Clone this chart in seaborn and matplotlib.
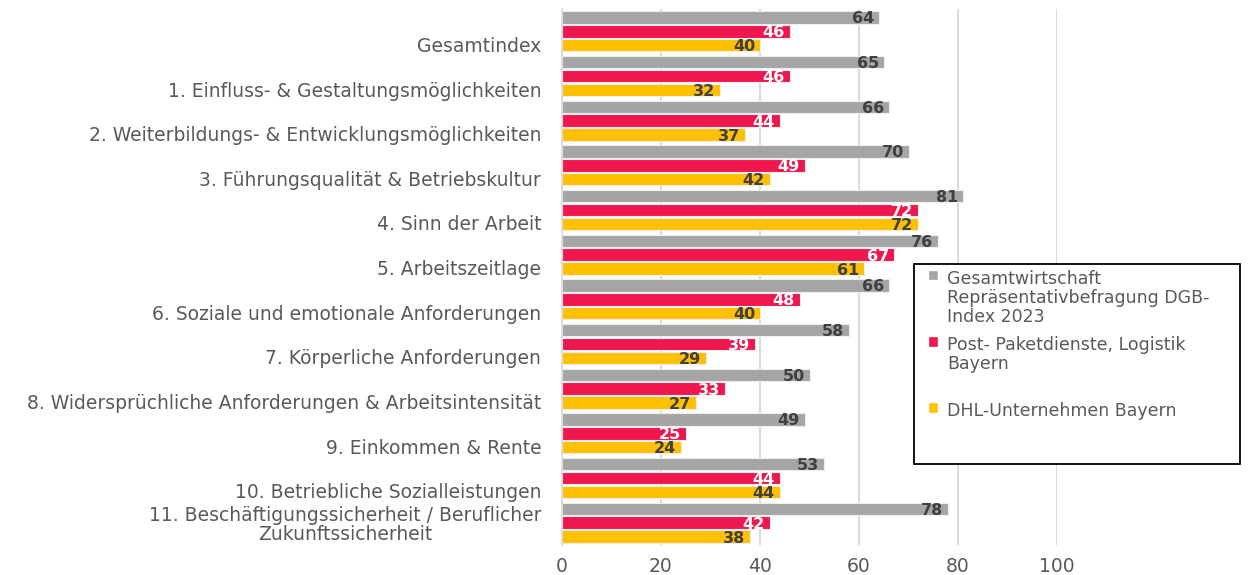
"""
DGB-Index Vergleich: Gesamtwirtschaft vs. Post/Logistik vs. DHL Bayern
"""

import numpy as np
import pandas as pd
import seaborn as sns
import matplotlib
matplotlib.use("Agg")
import matplotlib.pyplot as plt
from matplotlib.patches import Patch, Rectangle
from matplotlib.transforms import ScaledTranslation

categories = [
    "Gesamtindex",
    "1. Einfluss- & Gestaltungsmöglichkeiten",
    "2. Weiterbildungs- & Entwicklungsmöglichkeiten",
    "3. Führungsqualität & Betriebskultur",
    "4. Sinn der Arbeit",
    "5. Arbeitszeitlage",
    "6. Soziale und emotionale Anforderungen",
    "7. Körperliche Anforderungen",
    "8. Widersprüchliche Anforderungen & Arbeitsintensität",
    "9. Einkommen & Rente",
    "10. Betriebliche Sozialleistungen",
    "11. Beschäftigungssicherheit / Beruflicher\nZukunftssicherheit",
]
gesamt = [64, 65, 66, 70, 81, 76, 66, 58, 50, 49, 53, 78]
post = [46, 46, 44, 49, 72, 67, 48, 39, 33, 25, 44, 42]
dhl = [40, 32, 37, 42, 72, 61, 40, 29, 27, 24, 44, 38]

series_names = [
    "Gesamtwirtschaft Repräsentativbefragung DGB-Index 2023",
    "Post- Paketdienste, Logistik Bayern",
    "DHL-Unternehmen Bayern",
]
legend_labels = [
    "Gesamtwirtschaft\nRepräsentativbefragung DGB-\nIndex 2023",
    "Post- Paketdienste, Logistik\nBayern\n",
    "DHL-Unternehmen Bayern",
]
colors = ["#A5A5A5", "#F0174F", "#FFC000"]
label_colors = ["#404040", "white", "#404040"]
x_ticks = [0, 20, 40, 60, 80, 100]

TEXT = "#595959"
GRID = "#D9D9D9"


def build_frame() -> pd.DataFrame:
    rows = []
    for name, values in zip(series_names, [gesamt, post, dhl]):
        for cat, v in zip(categories, values):
            rows.append({"Kategorie": cat, "Wert": v, "Reihe": name})
    return pd.DataFrame(rows)


def run() -> None:
    df = build_frame()
    sns.set_style("white")
    plt.rcParams["font.family"] = ["DejaVu Sans"]

    fig = plt.figure(figsize=(12.48, 5.75), dpi=100)
    ax = fig.add_axes([562 / 1248, 1 - 545 / 575, (1057 - 562) / 1248, 536 / 575])

    sns.barplot(
        data=df, x="Wert", y="Kategorie", hue="Reihe", orient="h",
        palette=colors, saturation=1, width=0.93, gap=0.1, errorbar=None,
        edgecolor="#EEEEEE", linewidth=0.8, legend=False, ax=ax,
    )

    # value labels inside the bar ends
    for container, values, tc in zip(ax.containers, [gesamt, post, dhl], label_colors):
        for patch, v in zip(container.patches, values):
            ax.annotate(
                f"{v}", (patch.get_x() + patch.get_width(), patch.get_y() + patch.get_height() / 2),
                xytext=(-3.5, 0), textcoords="offset points", ha="right", va="center_baseline",
                fontsize=11.5, fontweight="bold", color=tc,
            )

    ax.set_xlim(0, 100)
    ax.set_ylim(len(categories) - 0.5, -0.5)
    ax.set_xticks(x_ticks)
    ax.set_xlabel("")
    ax.set_ylabel("")
    ax.xaxis.grid(True, color=GRID, linewidth=1.4)
    ax.set_axisbelow(True)
    for side in ["top", "right", "bottom"]:
        ax.spines[side].set_visible(False)
    ax.spines["left"].set_color(GRID)
    ax.spines["left"].set_linewidth(1.2)

    ax.set_yticks(np.arange(-0.5, len(categories), 1), minor=True)
    ax.tick_params(axis="y", which="minor", length=7, color=GRID, width=1.2)
    ax.tick_params(axis="y", which="major", length=0, pad=15, labelsize=13.5, labelcolor=TEXT)
    ax.tick_params(axis="x", length=0, pad=9, labelsize=13.5, labelcolor=TEXT)

    # single-line category labels sit a little below the group centre
    shift = ScaledTranslation(0, -13 / 100, fig.dpi_scale_trans)
    for lbl in ax.get_yticklabels():
        if "\n" not in lbl.get_text():
            lbl.set_transform(lbl.get_transform() + shift)
        else:
            lbl.set_multialignment("center")
            lbl.set_linespacing(1.0)

    # legend box
    fig.patches.append(Rectangle(
        (914 / 1248, 1 - 464 / 575), 326 / 1248, 200 / 575, transform=fig.transFigure,
        facecolor="white", edgecolor="black", linewidth=1.3, zorder=2,
    ))
    handles = [Patch(facecolor=c) for c in colors]
    leg = fig.legend(
        handles, legend_labels, loc="upper left",
        bbox_to_anchor=(928 / 1248, 1 - 270 / 575), frameon=False,
        fontsize=12.5, labelcolor=TEXT, handlelength=0.55, handleheight=0.55,
        handletextpad=0.55, labelspacing=0.6, borderpad=0, borderaxespad=0,
    )
    leg.set_zorder(5)
    for t in leg.get_texts():
        t.set_linespacing(1.06)
    for col in leg._legend_handle_box.get_children():
        for row in col.get_children():
            row.align = "top"

    fig.savefig("out.png", dpi=100)


if __name__ == "__main__":
    run()
